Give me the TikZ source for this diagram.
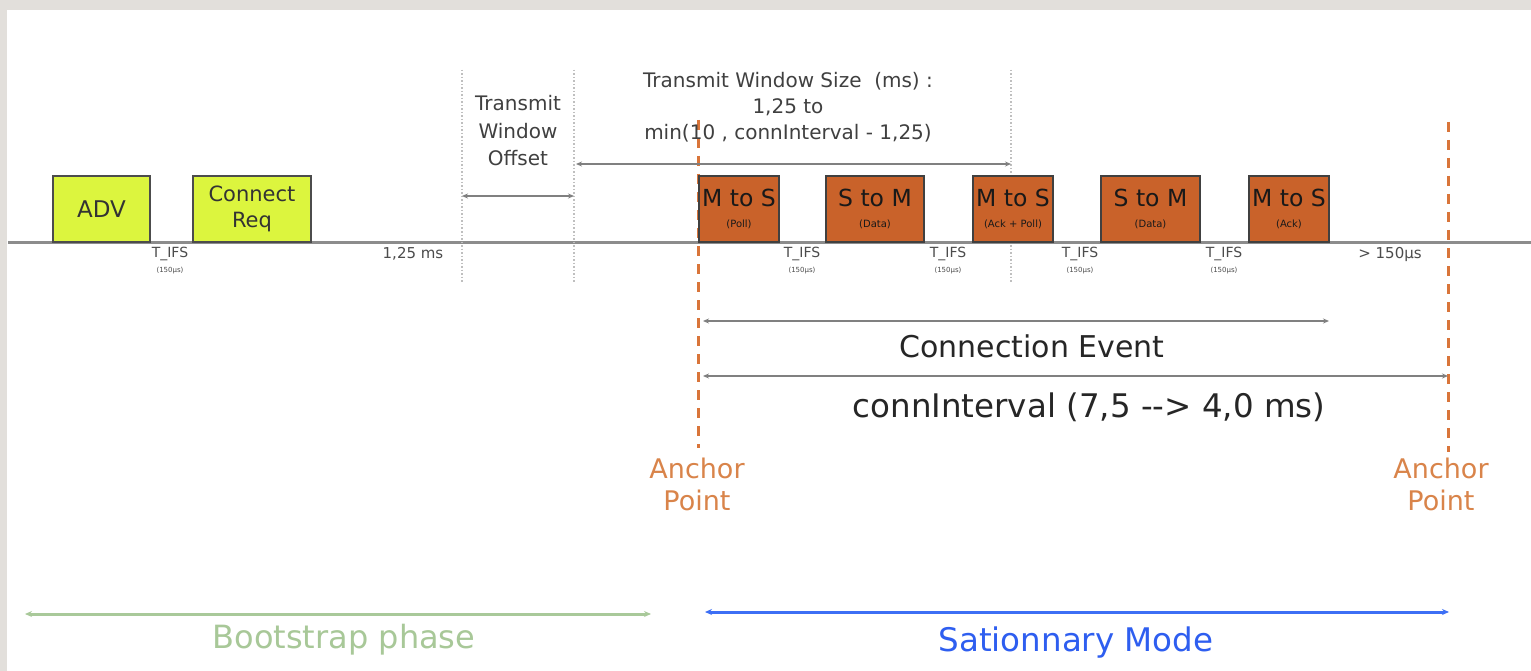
\documentclass[tikz,border=0pt]{standalone}
\usepackage{fontspec}
\setmainfont{DejaVu Sans}
\usetikzlibrary{arrows.meta}
\definecolor{bgborder}{HTML}{E2DFDB}
\definecolor{yfill}{HTML}{DCF53E}
\definecolor{ofill}{HTML}{C9622A}
\definecolor{oline}{HTML}{D9753A}
\definecolor{otext}{HTML}{D9844A}
\definecolor{gline}{HTML}{A9C99A}
\definecolor{gtext}{HTML}{A8C898}
\definecolor{bline}{HTML}{3D6FF5}
\definecolor{btext}{HTML}{2E5EF0}
\definecolor{dimc}{HTML}{808080}
\newcommand{\fs}[2]{\fontsize{#1}{#2}\selectfont}
\tikzset{
  yblock/.style={draw=black!70, fill=yfill, line width=1.5pt, inner sep=0pt, text=black!80, align=center},
  oblock/.style={draw=black!75, fill=ofill, line width=1.5pt, inner sep=0pt, minimum width=80pt, minimum height=66pt, text=black!90, align=center, font=\fs{23.5}{21}},
  lbl/.style={inner sep=0pt, align=center, text=black!75},
  tifs/.style={inner sep=0pt, align=center, text=black!70, font=\fs{14}{15}},
  dimarrow/.style={draw=dimc, line width=1.5pt, {Stealth[length=6pt,width=5pt]}-{Stealth[length=6pt,width=5pt]}},
  gridv/.style={draw=black!25, line width=1.5pt, dotted},
  anchorline/.style={draw=oline, line width=3pt, dash pattern=on 10pt off 8pt},
}
\newcommand{\sml}[1]{{\fs{10}{21}#1}}
\begin{document}
\begin{tikzpicture}[x=1pt,y=-1pt]
\useasboundingbox (0,0) rectangle (1531,671);
\fill[bgborder] (0,0) rectangle (1531,671);
\fill[white] (7,10) rectangle (1531,671);

% timeline
\coordinate (tl0) at (8,242);
\coordinate (tl1) at (1531,242);
\draw[black!45, line width=3pt] (tl0) -- (tl1);

% dotted vertical guides
\coordinate (g1a) at (462,70); \coordinate (g1b) at (462,282);
\coordinate (g2a) at (574,70); \coordinate (g2b) at (574,282);
\coordinate (g3a) at (1011,70); \coordinate (g3b) at (1011,282);
\draw[gridv] (g1a) -- (g1b);
\draw[gridv] (g2a) -- (g2b);
\draw[gridv] (g3a) -- (g3b);

% anchor lines
\coordinate (a1a) at (698,120); \coordinate (a1b) at (698,448);
\coordinate (a2a) at (1448,122); \coordinate (a2b) at (1448,452);
\draw[anchorline] (a1a) -- (a1b);
\draw[anchorline] (a2a) -- (a2b);

% yellow blocks
\node[yblock, minimum width=97pt, minimum height=66pt, font=\fs{23}{26}] (adv) at (101.5,209) {ADV};
\node[yblock, minimum width=118pt, minimum height=66pt, font=\fs{21}{26}] (creq) at (252,209) {Connect\\Req};

% orange blocks
\node[oblock, minimum height=66pt] (b1) at (739,209) {M to S\\\sml{(Poll)}};
\node[oblock, minimum width=98pt] (b2) at (875,209) {S to M\\\sml{(Data)}};
\node[oblock] (b3) at (1013,209) {M to S\\\sml{(Ack + Poll)}};
\node[oblock, minimum width=99pt] (b4) at (1150.5,209) {S to M\\\sml{(Data)}};
\node[oblock] (b5) at (1289,209) {M to S\\\sml{(Ack)}};

% T_IFS labels
\foreach \n/\x in {t1/170, t2/802, t3/948, t4/1080, t5/1224}{
  \node[tifs] (\n) at (\x,261) {T\_IFS\\{\fs{7}{15}(150µs)}};
}
\node[tifs, font=\fs{15}{16}] (ms125) at (413,254) {1,25 ms};
\node[tifs, font=\fs{15}{16}] (gt150) at (1390,254) {> 150µs};

% transmit window offset
\node[lbl, font=\fs{20}{27.5}] (two) at (518,131) {Transmit\\Window\\Offset};
\coordinate (twoL) at (462,196); \coordinate (twoR) at (574,196);
\draw[dimarrow] (twoL) -- (twoR);

% transmit window size
\node[lbl, font=\fs{20}{26}] (tws) at (788,107) {Transmit Window Size\ \ (ms) :\\1,25 to\\min(10 , connInterval - 1,25)};
\coordinate (twsL) at (576,164); \coordinate (twsR) at (1011,164);
\draw[dimarrow] (twsL) -- (twsR);

% connection event
\coordinate (ceL) at (703,321); \coordinate (ceR) at (1329,321);
\draw[dimarrow] (ceL) -- (ceR);
\node[lbl, text=black!85, font=\fs{30}{32}] (ce) at (1032,346) {Connection Event};

% conn interval
\coordinate (ciL) at (703,376); \coordinate (ciR) at (1448,376);
\draw[dimarrow] (ciL) -- (ciR);
\node[lbl, text=black!85, font=\fs{32.5}{34}] (ci) at (1089,407) {connInterval (7,5 -{}-{}> 4,0 ms)};

% anchor points
\node[lbl, text=otext, font=\fs{27}{32}] (ap1) at (697,484) {Anchor\\Point};
\node[lbl, text=otext, font=\fs{27}{32}] (ap2) at (1441,484) {Anchor\\Point};

% phases
\coordinate (bsL) at (25,614); \coordinate (bsR) at (651,614);
\draw[draw=gline, line width=3pt, {Stealth[length=7pt,width=6pt]}-{Stealth[length=7pt,width=6pt]}] (bsL) -- (bsR);
\node[lbl, text=gtext, font=\fs{32}{34}] (bs) at (344,640) {Bootstrap phase};
\coordinate (smL) at (705,612); \coordinate (smR) at (1449,612);
\draw[draw=bline, line width=3pt, {Stealth[length=7pt,width=6pt]}-{Stealth[length=7pt,width=6pt]}] (smL) -- (smR);
\node[lbl, text=btext, font=\fs{32.5}{34}] (sm) at (1076,643) {Sationnary Mode};
\end{tikzpicture}
\end{document}
